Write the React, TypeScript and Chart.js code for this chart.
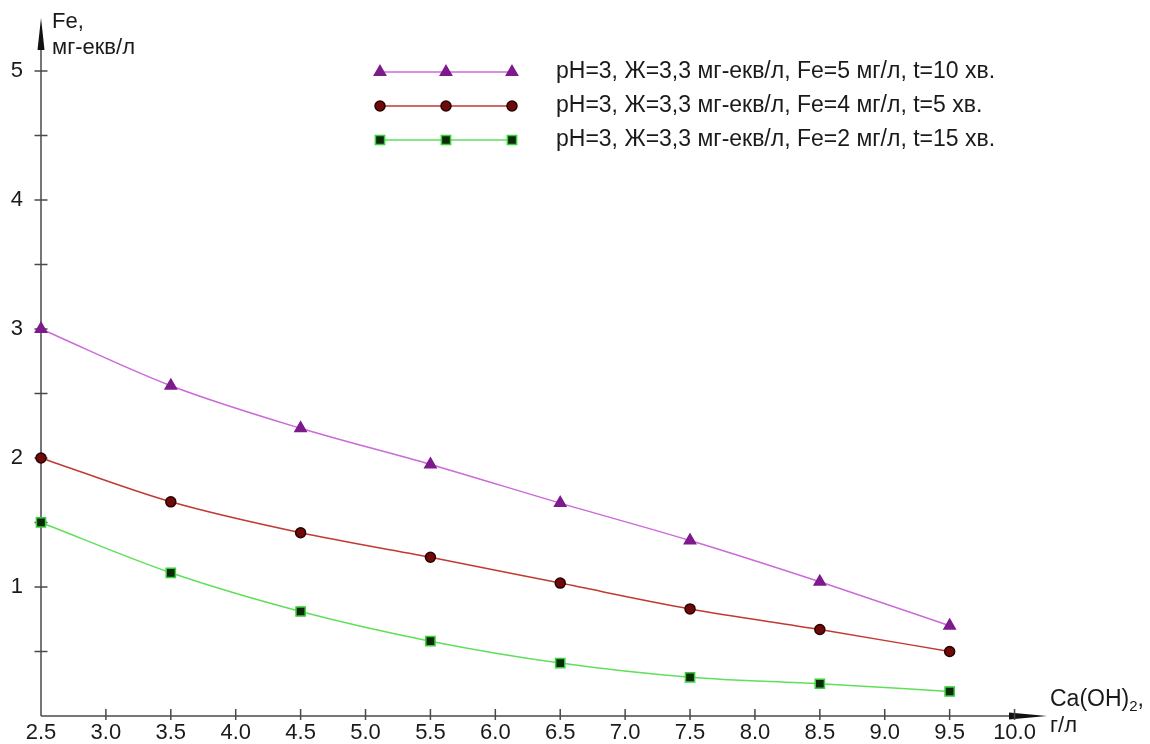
import React, { useEffect, useRef } from "react";
import { Chart, registerables } from "chart.js";

Chart.register(...registerables);

const xValues = [2.5, 3.5, 4.5, 5.5, 6.5, 7.5, 8.5, 9.5];
const seriesFe5 = [3.0, 2.56, 2.23, 1.95, 1.65, 1.36, 1.04, 0.7];
const seriesFe4 = [2.0, 1.66, 1.42, 1.23, 1.03, 0.83, 0.67, 0.5];
const seriesFe2 = [1.5, 1.11, 0.81, 0.58, 0.41, 0.3, 0.25, 0.19];

const seriesLabels = [
  "pH=3, Ж=3,3 мг-екв/л, Fe=5 мг/л, t=10 хв.",
  "pH=3, Ж=3,3 мг-екв/л, Fe=4 мг/л, t=5 хв.",
  "pH=3, Ж=3,3 мг-екв/л, Fe=2 мг/л, t=15 хв.",
];

const xTicks = [2.5, 3.0, 3.5, 4.0, 4.5, 5.0, 5.5, 6.0, 6.5, 7.0, 7.5, 8.0, 8.5, 9.0, 9.5, 10.0];
const yTicks = [0.5, 1, 1.5, 2, 2.5, 3, 3.5, 4, 4.5, 5];

const FONT = "'Liberation Sans', Arial, sans-serif";

const styles = [
  { line: "#cc6ad8", fill: "#7d1a8c", border: "#7d1a8c", shape: "triangle", r: 6.5 },
  { line: "#c03a32", fill: "#6e0a0a", border: "#2a0000", shape: "circle", r: 5 },
  { line: "#5fe05a", fill: "#0d2a0d", border: "#3ccf3c", shape: "rect", r: 6.5 },
];

function drawMarker(ctx: CanvasRenderingContext2D, shape: string, x: number, y: number, r: number, fill: string, border: string) {
  ctx.save();
  ctx.fillStyle = fill;
  ctx.strokeStyle = border;
  ctx.lineWidth = 1.5;
  ctx.beginPath();
  if (shape === "triangle") {
    const w = r * 0.866;
    ctx.moveTo(x, y - r);
    ctx.lineTo(x + w, y + r / 2);
    ctx.lineTo(x - w, y + r / 2);
    ctx.closePath();
  } else if (shape === "circle") {
    ctx.arc(x, y, r, 0, Math.PI * 2);
  } else {
    const s = r * Math.SQRT1_2;
    ctx.rect(x - s, y - s, 2 * s, 2 * s);
  }
  ctx.fill();
  ctx.stroke();
  ctx.restore();
}

const axesPlugin = {
  id: "customAxes",
  beforeDatasetsDraw(chart: any) {
    const ctx: CanvasRenderingContext2D = chart.ctx;
    const xs = chart.scales.x;
    const ys = chart.scales.y;
    const x0 = xs.getPixelForValue(xs.min);
    const y0 = ys.getPixelForValue(0);
    const xEnd = xs.getPixelForValue(xs.max);
    const yTop = ys.getPixelForValue(ys.max);
    ctx.save();
    ctx.strokeStyle = "#4a4a4a";
    ctx.fillStyle = "#111";
    ctx.lineWidth = 1.5;
    ctx.beginPath();
    ctx.moveTo(x0, y0);
    ctx.lineTo(x0, yTop + 20);
    ctx.moveTo(x0, y0);
    ctx.lineTo(xEnd - 20, y0);
    ctx.stroke();
    ctx.beginPath();
    ctx.moveTo(x0, yTop);
    ctx.lineTo(x0 + 3.5, yTop + 32);
    ctx.lineTo(x0 - 3.5, yTop + 32);
    ctx.closePath();
    ctx.fill();
    ctx.beginPath();
    ctx.moveTo(xEnd, y0);
    ctx.lineTo(xEnd - 38, y0 - 3.5);
    ctx.lineTo(xEnd - 38, y0 + 3.5);
    ctx.closePath();
    ctx.fill();
    ctx.beginPath();
    xs.ticks.forEach((t: any) => {
      if (t.value === xs.min) return;
      const px = xs.getPixelForValue(t.value);
      ctx.moveTo(px, y0 - 7);
      ctx.lineTo(px, y0 + 4);
    });
    ys.ticks.forEach((t: any) => {
      const py = ys.getPixelForValue(t.value);
      ctx.moveTo(x0 - 6.5, py);
      ctx.lineTo(x0 + 6.5, py);
    });
    ctx.stroke();
    ctx.restore();
  },
  afterDraw(chart: any) {
    const ctx: CanvasRenderingContext2D = chart.ctx;
    ctx.save();
    ctx.fillStyle = "#1a1a1a";
    ctx.textBaseline = "middle";
    ctx.textAlign = "left";
    ctx.font = `22px ${FONT}`;
    ctx.fillText("Fe,", 52, 22);
    ctx.fillText("мг-екв/л", 52, 48);
    const tx = 1050;
    const ty = 700;
    ctx.font = `23px ${FONT}`;
    ctx.fillText("Ca(OH)", tx, ty);
    let w = ctx.measureText("Ca(OH)").width;
    ctx.font = `15px ${FONT}`;
    ctx.fillText("2", tx + w, ty + 7);
    w += ctx.measureText("2").width;
    ctx.font = `23px ${FONT}`;
    ctx.fillText(",", tx + w, ty);
    ctx.font = `22px ${FONT}`;
    ctx.fillText("г/л", tx, 726);
    const rows = [72, 106, 140];
    const lx = [380, 446, 512];
    chart.data.datasets.forEach((ds: any, i: number) => {
      const st = styles[i];
      const y = rows[i];
      ctx.strokeStyle = st.line;
      ctx.lineWidth = 1.5;
      ctx.beginPath();
      ctx.moveTo(lx[0], y);
      ctx.lineTo(lx[2], y);
      ctx.stroke();
      lx.forEach((x) => drawMarker(ctx, st.shape, x, y, st.r, st.fill, st.border));
      ctx.fillStyle = "#1a1a1a";
      ctx.font = `23px ${FONT}`;
      ctx.fillText(ds.label, 556, y);
    });
    ctx.restore();
  },
};

export default function App() {
  const ref = useRef<HTMLCanvasElement | null>(null);
  useEffect(() => {
    if (!ref.current) return;
    const allSeries = [seriesFe5, seriesFe4, seriesFe2];
    const chart = new Chart(ref.current, {
      type: "scatter",
      data: {
        datasets: allSeries.map((s, i) => ({
          label: seriesLabels[i],
          data: xValues.map((x, j) => ({ x, y: s[j] })),
          showLine: true,
          borderColor: styles[i].line,
          borderWidth: 1.5,
          cubicInterpolationMode: "monotone",
          pointStyle: styles[i].shape,
          pointRadius: styles[i].r,
          pointBackgroundColor: styles[i].fill,
          pointBorderColor: styles[i].border,
          pointBorderWidth: 1.5,
          clip: false,
        })) as any,
      },
      options: {
        responsive: false,
        animation: false,
        events: [],
        layout: { padding: { left: 0, top: 18, right: 103, bottom: 0 } },
        plugins: { legend: { display: false }, tooltip: { enabled: false } },
        scales: {
          x: {
            type: "linear",
            min: 2.5,
            max: 10.25,
            grid: { display: false },
            border: { display: false },
            afterBuildTicks: (s: any) => {
              s.ticks = xTicks.map((v) => ({ value: v }));
            },
            afterFit: (s: any) => {
              s.height = 28;
              s.paddingLeft = 0;
              s.paddingRight = 0;
            },
            ticks: {
              autoSkip: false,
              maxRotation: 0,
              padding: -4,
              color: "#1a1a1a",
              font: { family: FONT, size: 22 },
              callback: (v: any) => Number(v).toFixed(1),
            },
          },
          y: {
            type: "linear",
            min: 0,
            max: 5.41,
            grid: { display: false },
            border: { display: false },
            afterBuildTicks: (s: any) => {
              s.ticks = yTicks.map((v) => ({ value: v }));
            },
            afterFit: (s: any) => {
              s.width = 41;
              s.paddingTop = 0;
              s.paddingBottom = 0;
            },
            ticks: {
              autoSkip: false,
              padding: 10,
              color: "#1a1a1a",
              font: { family: FONT, size: 22 },
              callback: (v: any) => (Number.isInteger(Number(v)) ? String(v) : ""),
            },
          },
        },
      },
      plugins: [axesPlugin],
    });
    return () => chart.destroy();
  }, []);
  return (
    <div style={{ position: "absolute", left: 0, top: 0, width: 1150, height: 744, background: "#fff" }}>
      <canvas ref={ref} width={1150} height={744} style={{ display: "block" }} />
    </div>
  );
}
